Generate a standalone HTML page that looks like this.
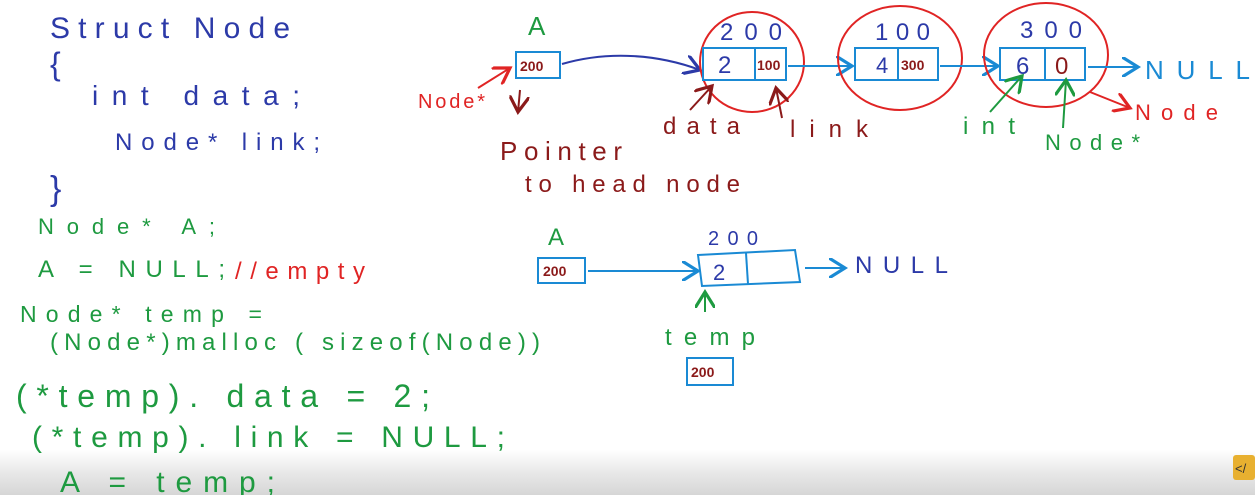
<!DOCTYPE html>
<html><head><meta charset="utf-8"><style>
html,body{margin:0;padding:0;}
body{width:1255px;height:495px;overflow:hidden;background:linear-gradient(to bottom,#fff 0,#fff 450px,#e6e6e6 475px,#d6d6d6 495px);}
svg{display:block}
text{font-family:"Liberation Sans",sans-serif;stroke:none;}
</style></head><body>
<svg width="1255" height="495" viewBox="0 0 1255 495">
<defs>
<marker id="ab" markerWidth="10" markerHeight="10" refX="8" refY="5" orient="auto"><path d="M0,0 L8,5 L0,10" fill="none" stroke="#1a8ad4" stroke-width="1.6"/></marker>
<marker id="ar" markerWidth="10" markerHeight="10" refX="8" refY="5" orient="auto"><path d="M0,0 L8,5 L0,10" fill="none" stroke="#e02424" stroke-width="1.6"/></marker>
<marker id="ad" markerWidth="10" markerHeight="10" refX="8" refY="5" orient="auto"><path d="M0,0 L8,5 L0,10" fill="none" stroke="#8b1a1a" stroke-width="1.6"/></marker>
<marker id="ag" markerWidth="10" markerHeight="10" refX="8" refY="5" orient="auto"><path d="M0,0 L8,5 L0,10" fill="none" stroke="#1e9a40" stroke-width="1.6"/></marker>
<marker id="an" markerWidth="10" markerHeight="10" refX="8" refY="5" orient="auto"><path d="M0,0 L8,5 L0,10" fill="none" stroke="#2c3aa8" stroke-width="1.6"/></marker>
</defs>
<g fill="#2c3aa8">
<text x="50" y="38" font-size="30" textLength="240" lengthAdjust="spacing">Struct Node</text>
<text x="50" y="75" font-size="32">{</text>
<text x="92" y="105" font-size="28" textLength="208" lengthAdjust="spacing">int data;</text>
<text x="115" y="150" font-size="24" textLength="205" lengthAdjust="spacing">Node* link;</text>
<text x="50" y="200" font-size="34">}</text>
</g>
<g fill="#1e9a40">
<text x="38" y="234" font-size="22" textLength="177" lengthAdjust="spacing">Node*  A;</text>
<text x="38" y="277" font-size="24" textLength="187" lengthAdjust="spacing">A = NULL;</text>
<text x="20" y="322" font-size="23" textLength="242" lengthAdjust="spacing">Node* temp =</text>
<text x="50" y="350" font-size="24" textLength="490" lengthAdjust="spacing">(Node*)malloc ( sizeof(Node))</text>
<text x="16" y="407" font-size="32" textLength="414" lengthAdjust="spacing">(*temp). data = 2;</text>
<text x="32" y="447" font-size="30" textLength="473" lengthAdjust="spacing">(*temp). link = NULL;</text>
<text x="60" y="492" font-size="30" textLength="215" lengthAdjust="spacing">A = temp;</text>
</g>
<text x="235" y="279" font-size="24" fill="#e02424" textLength="130" lengthAdjust="spacing">//empty</text>

<text x="528" y="35" font-size="26" fill="#1e9a40">A</text>
<rect x="516" y="52" width="44" height="26" fill="none" stroke="#1a8ad4" stroke-width="2"/>
<text x="520" y="71" font-size="14" font-weight="bold" fill="#8b1a1a">200</text>
<path d="M562,64 C610,50 660,55 700,70" fill="none" stroke="#2c3aa8" stroke-width="2" marker-end="url(#an)"/>

<ellipse cx="752" cy="62" rx="52" ry="50" fill="none" stroke="#e02424" stroke-width="2"/>
<text x="720" y="40" font-size="24" fill="#2c3aa8" textLength="62" lengthAdjust="spacing">200</text>
<rect x="703" y="48" width="83" height="32" fill="none" stroke="#1a8ad4" stroke-width="2"/>
<line x1="755" y1="48" x2="755" y2="80" stroke="#1a8ad4" stroke-width="2"/>
<text x="718" y="73" font-size="24" fill="#2c3aa8">2</text>
<text x="757" y="70" font-size="14" font-weight="bold" fill="#8b1a1a">100</text>
<line x1="788" y1="66" x2="852" y2="66" stroke="#1a8ad4" stroke-width="2" marker-end="url(#ab)"/>

<ellipse cx="900" cy="58" rx="62" ry="52" fill="none" stroke="#e02424" stroke-width="2"/>
<text x="875" y="40" font-size="24" fill="#2c3aa8" textLength="55" lengthAdjust="spacing">100</text>
<rect x="855" y="48" width="83" height="32" fill="none" stroke="#1a8ad4" stroke-width="2"/>
<line x1="898" y1="48" x2="898" y2="80" stroke="#1a8ad4" stroke-width="2"/>
<text x="876" y="73" font-size="22" fill="#2c3aa8">4</text>
<text x="901" y="70" font-size="14" font-weight="bold" fill="#8b1a1a">300</text>
<line x1="940" y1="66" x2="998" y2="66" stroke="#1a8ad4" stroke-width="2" marker-end="url(#ab)"/>

<ellipse cx="1046" cy="55" rx="62" ry="52" fill="none" stroke="#e02424" stroke-width="2"/>
<text x="1020" y="38" font-size="24" fill="#2c3aa8" textLength="62" lengthAdjust="spacing">300</text>
<rect x="1000" y="48" width="85" height="32" fill="none" stroke="#1a8ad4" stroke-width="2"/>
<line x1="1045" y1="48" x2="1045" y2="80" stroke="#1a8ad4" stroke-width="2"/>
<text x="1016" y="74" font-size="24" fill="#2c3aa8">6</text>
<text x="1055" y="74" font-size="24" fill="#8b1a1a">0</text>
<line x1="1088" y1="67" x2="1138" y2="67" stroke="#1a8ad4" stroke-width="2" marker-end="url(#ab)"/>
<text x="1145" y="79" font-size="26" fill="#1a8ad4" textLength="105" lengthAdjust="spacing">NULL</text>

<text x="418" y="108" font-size="20" fill="#e02424" textLength="67" lengthAdjust="spacing">Node*</text>
<line x1="478" y1="88" x2="510" y2="68" stroke="#e02424" stroke-width="2" marker-end="url(#ar)"/>
<line x1="520" y1="90" x2="518" y2="112" stroke="#8b1a1a" stroke-width="2" marker-end="url(#ad)"/>
<text x="500" y="160" font-size="26" fill="#8b1a1a" textLength="122" lengthAdjust="spacing">Pointer</text>
<text x="525" y="192" font-size="24" fill="#8b1a1a" textLength="215" lengthAdjust="spacing">to head node</text>
<text x="663" y="134" font-size="24" fill="#8b1a1a" textLength="77" lengthAdjust="spacing">data</text>
<line x1="690" y1="110" x2="712" y2="86" stroke="#8b1a1a" stroke-width="2" marker-end="url(#ad)"/>
<text x="790" y="137" font-size="24" fill="#8b1a1a" textLength="78" lengthAdjust="spacing">link</text>
<line x1="782" y1="118" x2="776" y2="88" stroke="#8b1a1a" stroke-width="2" marker-end="url(#ad)"/>
<text x="963" y="134" font-size="24" fill="#1e9a40" textLength="52" lengthAdjust="spacing">int</text>
<line x1="990" y1="112" x2="1022" y2="76" stroke="#1e9a40" stroke-width="2" marker-end="url(#ag)"/>
<text x="1045" y="150" font-size="22" fill="#1e9a40" textLength="95" lengthAdjust="spacing">Node*</text>
<line x1="1063" y1="128" x2="1066" y2="80" stroke="#1e9a40" stroke-width="2" marker-end="url(#ag)"/>
<line x1="1090" y1="92" x2="1130" y2="108" stroke="#e02424" stroke-width="2" marker-end="url(#ar)"/>
<text x="1135" y="120" font-size="22" fill="#e02424" textLength="83" lengthAdjust="spacing">Node</text>

<text x="548" y="245" font-size="24" fill="#1e9a40">A</text>
<rect x="538" y="258" width="47" height="25" fill="none" stroke="#1a8ad4" stroke-width="2"/>
<text x="543" y="276" font-size="14" font-weight="bold" fill="#8b1a1a">200</text>
<line x1="588" y1="271" x2="698" y2="271" stroke="#1a8ad4" stroke-width="2" marker-end="url(#ab)"/>
<text x="708" y="245" font-size="20" fill="#2c3aa8" textLength="50" lengthAdjust="spacing">200</text>
<polygon points="698,255 795,250 800,282 702,286" fill="none" stroke="#1a8ad4" stroke-width="2"/>
<line x1="746" y1="253" x2="748" y2="284" stroke="#1a8ad4" stroke-width="2"/>
<text x="713" y="280" font-size="22" fill="#2c3aa8">2</text>
<line x1="805" y1="268" x2="845" y2="268" stroke="#1a8ad4" stroke-width="2" marker-end="url(#ab)"/>
<text x="855" y="273" font-size="24" fill="#2c3aa8" textLength="93" lengthAdjust="spacing">NULL</text>
<line x1="705" y1="312" x2="705" y2="292" stroke="#1e9a40" stroke-width="2" marker-end="url(#ag)"/>
<text x="665" y="345" font-size="24" fill="#1e9a40" textLength="90" lengthAdjust="spacing">temp</text>
<rect x="687" y="358" width="46" height="27" fill="none" stroke="#1a8ad4" stroke-width="2"/>
<text x="691" y="377" font-size="14" font-weight="bold" fill="#8b1a1a">200</text>

<rect x="1233" y="455" width="22" height="25" rx="3" fill="#e8b030"/>
<text x="1235" y="473" font-size="13" fill="#333">&lt;/</text>
</svg>
</body></html>
